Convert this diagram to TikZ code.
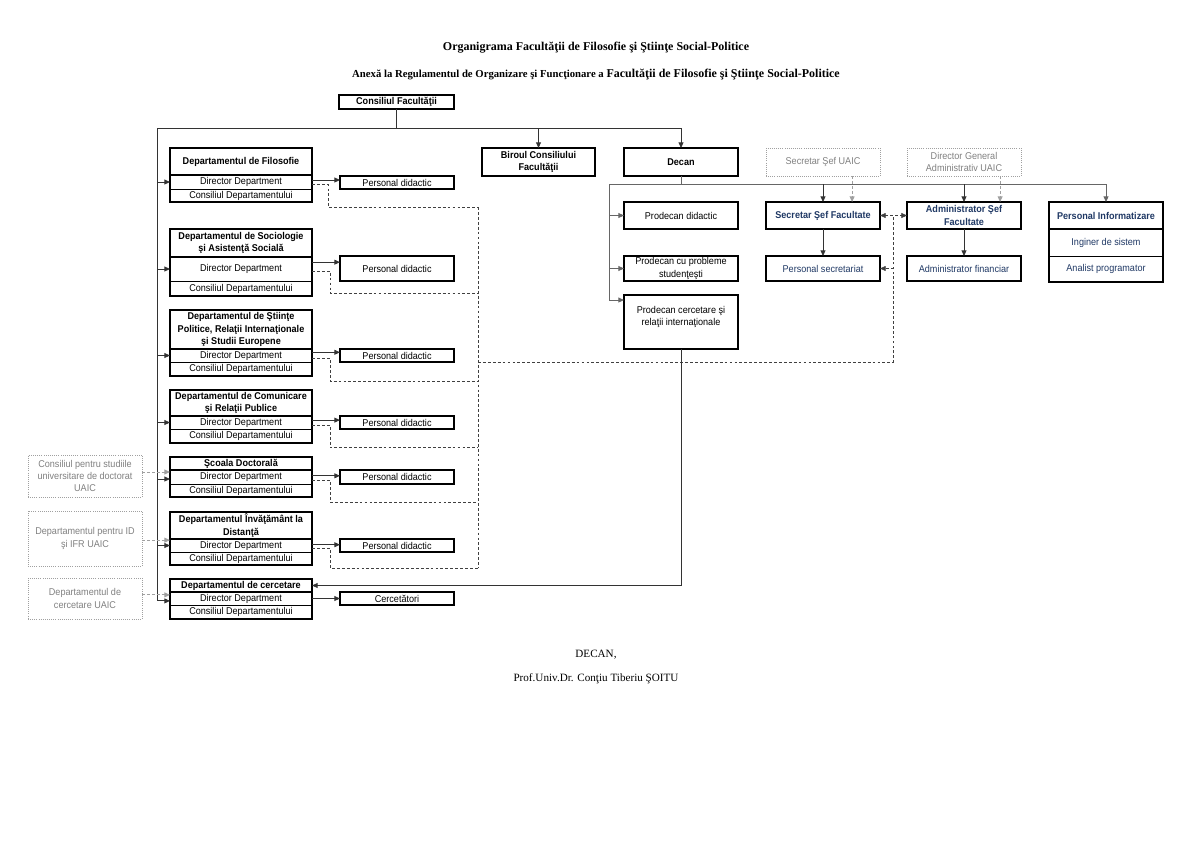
\documentclass[tikz,border=0pt]{standalone}
\usepackage{fontspec}
\newfontfamily\arialn{Liberation Sans}[FakeStretch=0.92]
\newfontfamily\serifa{Liberation Serif}
\usetikzlibrary{arrows.meta,calc,positioning}
\definecolor{azulinchis}{RGB}{31,56,100}
\definecolor{grisclaro}{RGB}{160,160,160}
\tikzset{
  caja/.style={draw, line width=0.5pt, inner sep=0pt, outer sep=0pt, anchor=north west, align=center, font=\arialn\fontsize{7}{8.8}\selectfont},
  cajamedia/.style={caja, line width=1.1pt},
  cajagruesa/.style={caja, line width=1.8pt},
  cajagris/.style={caja, draw=grisclaro, densely dotted, text=black!50},
  negrita/.style={font=\arialn\bfseries\fontsize{7}{8.8}\selectfont},
  azul/.style={text=azulinchis},
  dep/.style={minimum width=35.41mm},
  std/.style={minimum width=28.43mm},
  marco/.style={line width=1.8pt},
  linea/.style={draw=black!80, line width=0.6pt},
  flecha/.style={linea, -{Triangle[length=4pt,width=3.5pt]}},
  discontinua/.style={draw=black!75, line width=0.5pt, dash pattern=on 2pt off 1.5pt},
  grisflecha/.style={draw=grisclaro, line width=0.6pt, dash pattern=on 2pt off 1.5pt, -{Triangle[length=4pt,width=3.5pt]}}
}
\begin{document}
\begin{tikzpicture}[x=0.24937mm, y=-0.24937mm]
                \useasboundingbox (0,0) rectangle (1191,842);

                % Titulo
                \node[font=\serifa\bfseries\fontsize{8.5}{10}\selectfont] (titulo) at (596,48) {Organigrama Facultăţii de Filosofie şi Ştiinţe Social-Politice};
                \node[font=\serifa\bfseries\fontsize{7.6}{10}\selectfont] (anexa) at (596,75) {Anexă la Regulamentul de Organizare şi Funcţionare a {\fontsize{8.5}{10}\selectfont Facultăţii de Filosofie şi Ştiinţe Social-Politice}};

                % Consiliul, Biroul, Decan
                \node[cajagruesa, negrita, minimum width=28.68mm, minimum height=3.49mm] (cf) at (339,95) {Consiliul Facultăţii};
                \node[cajagruesa, negrita, minimum width=28.18mm, minimum height=6.98mm] (biroul) at (482,148) {Biroul Consiliului\\Facultăţii};
                \node[cajagruesa, negrita, std, minimum height=6.98mm] (decan) at (624,148) {Decan};

                % Departamente
                \node[cajagruesa, negrita, dep, minimum height=6.73mm] (d1-hdr) at (170,148) {Departamentul de Filosofie};
                \node[caja, dep, minimum height=3.49mm] (d1-dir) at (170,175) {Director Department};
                \node[caja, dep, minimum height=3.24mm] (d1-cons) at (170,189) {Consiliul Departamentului};
                \draw[marco] (d1-hdr.north west) rectangle (d1-cons.south east);
                \node[cajamedia, std, minimum height=3.24mm] (p1) at (340,176) {Personal didactic};

                \node[cajagruesa, negrita, dep, minimum height=6.98mm] (d2-hdr) at (170,229) {Departamentul de Sociologie\\şi Asistenţă Socială};
                \node[caja, dep, minimum height=5.98mm] (d2-dir) at (170,257) {Director Department};
                \node[caja, dep, minimum height=3.74mm] (d2-cons) at (170,281) {Consiliul Departamentului};
                \draw[marco] (d2-hdr.north west) rectangle (d2-cons.south east);
                \node[cajamedia, std, minimum height=6.23mm] (p2) at (340,256) {Personal didactic};

                \node[cajagruesa, negrita, dep, minimum height=9.73mm] (d3-hdr) at (170,310) {Departamentul de Ştiinţe\\Politice, Relaţii Internaţionale\\şi Studii Europene};
                \node[caja, dep, minimum height=3.24mm] (d3-dir) at (170,349) {Director Department};
                \node[caja, dep, minimum height=3.49mm] (d3-cons) at (170,362) {Consiliul Departamentului};
                \draw[marco] (d3-hdr.north west) rectangle (d3-cons.south east);
                \node[cajamedia, std, minimum height=3.24mm] (p3) at (340,349) {Personal didactic};

                \node[cajagruesa, negrita, dep, minimum height=6.48mm] (d4-hdr) at (170,390) {Departamentul de Comunicare\\şi Relaţii Publice};
                \node[caja, dep, minimum height=3.24mm] (d4-dir) at (170,416) {Director Department};
                \node[caja, dep, minimum height=3.49mm] (d4-cons) at (170,429) {Consiliul Departamentului};
                \draw[marco] (d4-hdr.north west) rectangle (d4-cons.south east);
                \node[cajamedia, std, minimum height=3.24mm] (p4) at (340,416) {Personal didactic};

                \node[cajagruesa, negrita, dep, minimum height=3.24mm] (d5-hdr) at (170,457) {Şcoala Doctorală};
                \node[caja, dep, minimum height=3.49mm] (d5-dir) at (170,470) {Director Department};
                \node[caja, dep, minimum height=3.24mm] (d5-cons) at (170,484) {Consiliul Departamentului};
                \draw[marco] (d5-hdr.north west) rectangle (d5-cons.south east);
                \node[cajamedia, std, minimum height=3.49mm] (p5) at (340,470) {Personal didactic};

                \node[cajagruesa, negrita, dep, minimum height=6.73mm] (d6-hdr) at (170,512) {Departamentul Învăţământ la\\Distanţă};
                \node[caja, dep, minimum height=3.24mm] (d6-dir) at (170,539) {Director Department};
                \node[caja, dep, minimum height=3.24mm] (d6-cons) at (170,552) {Consiliul Departamentului};
                \draw[marco] (d6-hdr.north west) rectangle (d6-cons.south east);
                \node[cajamedia, std, minimum height=3.24mm] (p6) at (340,539) {Personal didactic};

                \node[cajagruesa, negrita, dep, minimum height=3.24mm] (d7-hdr) at (170,579) {Departamentul de cercetare};
                \node[caja, dep, minimum height=3.24mm] (d7-dir) at (170,592) {Director Department};
                \node[caja, dep, minimum height=3.49mm] (d7-cons) at (170,605) {Consiliul Departamentului};
                \draw[marco] (d7-hdr.north west) rectangle (d7-cons.south east);
                \node[cajamedia, std, minimum height=3.24mm] (p7) at (340,592) {Cercetători};

                % Cajas UAIC
                \node[cajagris, std, minimum height=10.47mm] (g1) at (28,455) {Consiliul pentru studiile\\universitare de doctorat\\UAIC};
                \node[cajagris, std, minimum height=13.72mm] (g2) at (28,511) {Departamentul pentru ID\\şi IFR UAIC};
                \node[cajagris, std, minimum height=10.22mm] (g3) at (28,578) {Departamentul de\\cercetare UAIC};
                \node[cajagris, std, minimum height=6.98mm] (secu) at (766,148) {Secretar Şef UAIC};
                \node[cajagris, std, minimum height=6.98mm] (dga) at (907,148) {Director General\\Administrativ UAIC};

                % Prodecani
                \node[cajamedia, std, minimum height=6.73mm] (pd) at (624,202) {Prodecan didactic};
                \node[cajamedia, std, minimum height=6.23mm] (pcp) at (624,256) {Prodecan cu probleme\\studenţeşti};
                \node[cajamedia, std, minimum height=13.47mm] (pc) at (624,295) {Prodecan cercetare şi\\relaţii internaţionale\\ \mbox{}};

                % Secretariat si administratie
                \node[cajagruesa, negrita, azul, std, minimum height=6.73mm] (ss) at (766,202) {Secretar Şef Facultate};
                \node[cajamedia, azul, std, minimum height=6.23mm] (psec) at (766,256) {Personal secretariat};
                \node[cajagruesa, negrita, azul, std, minimum height=6.73mm] (asf) at (907,202) {Administrator Şef\\Facultate};
                \node[cajamedia, azul, std, minimum height=6.23mm] (af) at (907,256) {Administrator financiar};
                \node[cajagruesa, negrita, azul, std, minimum height=6.73mm] (pinf) at (1049,202) {Personal Informatizare};
                \node[caja, azul, std, minimum height=6.73mm] (ing) at (1049,229) {Inginer de sistem};
                \node[caja, azul, std, minimum height=6.48mm] (anp) at (1049,256) {Analist programator};
                \draw[marco] (pinf.north west) rectangle (anp.south east);

                % Puntos de union
                \coordinate (sup) at (157,128);
                \coordinate (izqD) at (609,184);
                \coordinate (colA) at (478,207);
                \coordinate (colB) at (478,568);
                \coordinate (medio) at ($(ss.east)!0.5!(asf.west)$);

                % Lineas del Consiliul
                \draw[linea] (cf.south) -- (cf.south |- sup);
                \draw[flecha] (sup) -| (decan.north);
                \draw[flecha] (sup -| biroul.north) -- (biroul.north);
                \draw[linea] (sup) -- ([yshift=-0.6mm]sup |- d7-dir.west);
                \draw[flecha] (sup |- d1-dir.west) -- (d1-dir.west);
                \draw[flecha] (sup |- d2-dir.west) -- (d2-dir.west);
                \draw[flecha] (sup |- d3-dir.west) -- (d3-dir.west);
                \draw[flecha] (sup |- d4-dir.west) -- (d4-dir.west);
                \draw[flecha] ([yshift=-0.5mm]sup |- d5-dir.west) -- ([yshift=-0.5mm]d5-dir.west);
                \draw[flecha] (sup |- d6-dir.west) -- (d6-dir.west);
                \draw[flecha] ([yshift=-0.6mm]sup |- d7-dir.west) -- ([yshift=-0.6mm]d7-dir.west);

                % Flechas grises UAIC
                \draw[grisflecha] ([yshift=1mm]g1.east) -- ([yshift=1mm]g1.east -| d5-dir.west);
                \draw[grisflecha] ([yshift=-0.4mm]g2.east) -- ([yshift=-0.4mm]g2.east -| d6-dir.west);
                \draw[grisflecha] ([yshift=0.9mm]g3.east) -- ([yshift=0.9mm]g3.east -| d7-dir.west);
                \draw[grisflecha] ([xshift=7.25mm]secu.south) -- ([xshift=7.25mm]ss.north);
                \draw[grisflecha] ([xshift=9mm]dga.south) -- ([xshift=9mm]asf.north);

                % Personal didactic
                \draw[flecha] ([yshift=0.5mm]d1-dir.east) -- ([yshift=0.5mm]d1-dir.east -| p1.west);
                \draw[flecha] ([yshift=1.7mm]d2-dir.east) -- ([yshift=1.7mm]d2-dir.east -| p2.west);
                \draw[flecha] ([yshift=0.8mm]d3-dir.east) -- ([yshift=0.8mm]d3-dir.east -| p3.west);
                \draw[flecha] ([yshift=0.6mm]d4-dir.east) -- ([yshift=0.6mm]d4-dir.east -| p4.west);
                \draw[flecha] ([yshift=0.3mm]d5-dir.east) -- ([yshift=0.3mm]d5-dir.east -| p5.west);
                \draw[flecha] ([yshift=0.2mm]d6-dir.east) -- ([yshift=0.2mm]d6-dir.east -| p6.west);
                \draw[flecha] (d7-dir.east) -- (d7-dir.east -| p7.west);

                % Lineas discontinuas
                \draw[discontinua] ([yshift=-0.7mm]d1-dir.east) -- ++(16,0) |- ([yshift=-1.25mm]d1-cons.south -| colA);
                \draw[discontinua] ([yshift=-0.5mm]d2-dir.east) -- ++(18,0) |- ([yshift=0.7mm]d2-cons.south -| colA);
                \draw[discontinua] ([yshift=-0.7mm]d3-dir.east) -- ++(18,0) |- ([yshift=-1.25mm]d3-cons.south -| colA);
                \draw[discontinua] ([yshift=-0.7mm]d4-dir.east) -- ++(18,0) |- ([yshift=-1.1mm]d4-cons.south -| colA);
                \draw[discontinua] ([yshift=-0.9mm]d5-dir.east) -- ++(18,0) |- ([yshift=-1.25mm]d5-cons.south -| colA);
                \draw[discontinua] ([yshift=-0.8mm]d6-dir.east) -- ++(18,0) |- ([yshift=-0.8mm]d6-cons.south -| colA);
                \draw[discontinua] (colA) -- (colB);
                \draw[discontinua] (colA |- d3-cons.north) -| (medio);
                \draw[discontinua, {Triangle[length=4pt,width=3.5pt]}-{Triangle[length=4pt,width=3.5pt]}] (ss.east) -- (asf.west);
                \draw[discontinua, -{Triangle[length=4pt,width=3.5pt]}] (medio |- psec.east) -- (psec.east);

                % Ramas del Decan
                \draw[linea, draw=black!60] (decan.south) -- (decan.south |- izqD);
                \draw[flecha, draw=black!60] (izqD) -| (pinf.north);
                \draw[flecha] (ss.north |- izqD) -- (ss.north);
                \draw[flecha] (asf.north |- izqD) -- (asf.north);
                \draw[flecha, draw=black!60] (izqD) |- (pd.west);
                \draw[flecha, draw=black!60] (izqD) |- (pcp.west);
                \draw[flecha, draw=black!60] (izqD) |- ([yshift=-1.25mm]pc.north west);
                \draw[flecha] (ss.south) -- (psec.north);
                \draw[flecha] (asf.south) -- (af.north);
                \draw[flecha] (pc.south) |- (d7-hdr.east);

                % Firma
                \node[font=\serifa\fontsize{7.9}{9}\selectfont] (firma) at (596,655) {DECAN,};
                \node[font=\serifa\fontsize{7.9}{9}\selectfont] (nombre) at (596,679) {Prof.Univ.Dr. Conţiu Tiberiu ŞOITU};

\end{tikzpicture}
\end{document}
